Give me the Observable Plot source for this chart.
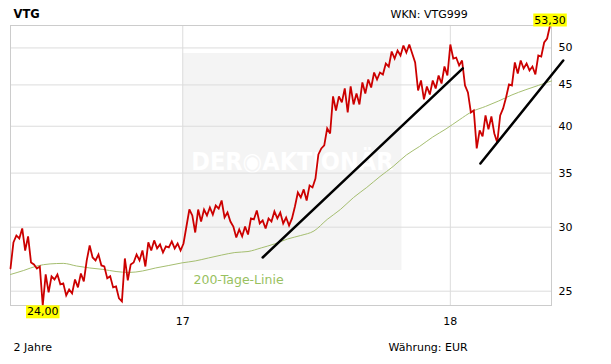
<!DOCTYPE html>
<html><head><meta charset="utf-8">
<script src="https://cdn.jsdelivr.net/npm/d3@7"></script>
<script src="https://cdn.jsdelivr.net/npm/@observablehq/plot@0.6"></script>
<style>body{margin:0;background:#fff}</style>
</head><body><div id="chart"></div>
<script>
// ---- data ----
const title = "VTG";
const wknText = "WKN: VTG999";
const periodText = "2 Jahre";
const currencyText = "Währung: EUR";
const smaLabel = "200-Tage-Linie";
const watermarkText = "DER◉AKTIONÄR";

const startDate = "2016-05-11";
const endDate = "2018-05-19";
const stepDays = 4;            // closing prices sampled every 4 days
const prices = [
26.67, 28.73, 29.30, 29.05, 29.89, 28.07, 29.22, 27.13, 26.98, 26.67,
26.82, 24.00, 26.22, 24.91, 26.08, 25.85, 26.22, 25.49, 25.56, 24.70,
25.12, 24.84, 25.85, 25.27, 26.29, 25.71, 27.29, 28.48, 27.52, 27.29,
27.75, 26.90, 26.82, 25.93, 26.08, 25.27, 25.34, 24.49, 24.28, 27.44,
25.78, 26.98, 27.13, 27.75, 27.29, 28.07, 26.82, 28.73, 28.07, 28.89,
28.24, 28.56, 27.91, 28.40, 28.32, 28.81, 28.24, 28.64, 28.07, 28.64,
30.06, 31.55, 31.02, 29.55, 31.55, 30.49, 31.55, 31.02, 31.73, 31.10,
31.91, 31.64, 32.37, 30.84, 31.28, 30.49, 30.06, 29.13, 29.81, 29.22,
30.06, 29.38, 30.76, 30.67, 31.46, 30.32, 30.58, 29.89, 30.76, 30.49,
31.37, 30.76, 31.28, 30.32, 30.84, 30.15, 30.76, 31.82, 33.12, 32.65,
33.41, 32.37, 33.79, 33.60, 34.46, 36.91, 37.55, 37.87, 39.75, 39.18,
43.55, 41.84, 43.55, 42.81, 44.55, 41.60, 44.80, 42.56, 43.91, 42.56,
45.31, 43.91, 45.70, 44.67, 46.62, 45.70, 46.62, 46.36, 47.83, 47.42,
49.49, 48.51, 49.63, 48.93, 50.35, 49.35, 50.49, 49.21, 47.97, 44.29,
45.57, 43.18, 44.80, 43.79, 45.57, 44.55, 46.22, 45.18, 47.42, 46.22,
50.49, 48.51, 48.65, 47.56, 48.24, 44.93, 44.04, 41.60, 41.84, 37.55,
39.52, 38.85, 41.25, 39.64, 41.13, 39.18, 38.19, 41.25, 42.08, 43.42,
45.05, 44.93, 47.97, 46.49, 48.24, 47.16, 47.83, 46.89, 47.42, 46.36,
48.93, 48.79, 50.78, 51.36, 53.30
];
const smaStepDays = 18;        // 200-day line sampled every 18 days
const sma200 = [
26.22, 26.52, 26.86, 27.02, 27.06, 26.86, 26.71, 26.60, 26.44, 26.37,
26.48, 26.71, 26.90, 27.10, 27.25, 27.48, 27.71, 27.91, 27.99, 28.28,
28.60, 29.01, 29.30, 29.68, 30.67, 31.55, 32.65, 33.60, 34.66, 35.67,
36.85, 37.76, 38.79, 39.69, 40.72, 41.72, 42.32, 42.99, 43.73, 44.36,
44.93, 45.51
];
const trend1 = [["2017-04-20", 27.52], ["2018-01-18", 47.16]];
const trend2 = [["2018-02-11", 35.97], ["2018-06-04", 48.24]];
const yTicks = [25, 30, 35, 40, 45, 50];
const yearTicks = ["2017-01-01", "2018-01-01"];
const yearLabels = ["17", "18"];
const watermarkBox = {from: "2017-01-01", to: "2017-10-27", low: 26.52, high: 49.21};

// ---- build ----
const parse = d3.utcParse("%Y-%m-%d");
const t0 = parse(startDate);
const series = prices.map((p, i) => ({date: d3.utcDay.offset(t0, i * stepDays), price: p}));
const smaSeries = sma200.map((p, i) => ({date: d3.utcDay.offset(t0, i * smaStepDays), price: p}));
const trends = [trend1, trend2].flatMap((t, k) => t.map(([d, p]) => ({k, date: parse(d), price: p})));
const yearDates = yearTicks.map(parse);
const yearLabel = new Map(yearDates.map((d, i) => [+d, yearLabels[i]]));
const last = series[series.length - 1];
const low = d3.least(series, d => d.price);
const fmt = p => p.toFixed(2).replace(".", ",");
const wm = {x1: parse(watermarkBox.from), x2: parse(watermarkBox.to), y1: watermarkBox.low, y2: watermarkBox.high};
const wmCenter = {date: new Date((+wm.x1 + +wm.x2) / 2), price: Math.sqrt(wm.y1 * wm.y2)};
const highlightTexts = new Set([fmt(last.price), fmt(low.price)]);

const font = "'DejaVu Sans', Verdana, sans-serif";
const plot = Plot.plot({
  width: 611, height: 364,
  marginTop: 25, marginRight: 60, marginBottom: 59, marginLeft: 10,
  style: {fontFamily: font, fontSize: "11px", background: "#fff", color: "#000", overflow: "visible"},
  x: {type: "utc", domain: [parse(startDate), parse(endDate)]},
  y: {type: "log", domain: d3.extent(prices)},
  marks: [
    Plot.rect([wm], {x1: "x1", x2: "x2", y1: "y1", y2: "y2", fill: "#f4f4f4"}),
    Plot.text([wmCenter], {x: "date", y: "price", text: () => watermarkText, fill: "#ffffff", fontSize: 25, fontWeight: "bold", fontFamily: "'DejaVu Sans Condensed', 'DejaVu Sans', sans-serif"}),
    Plot.ruleY(yTicks, {stroke: "#dcdcdc"}),
    Plot.ruleX(yearDates, {stroke: "#dcdcdc"}),
    Plot.frame({stroke: "#cccccc"}),
    Plot.line(smaSeries, {x: "date", y: "price", stroke: "#a5be70", strokeWidth: 1, curve: "monotone-x"}),
    Plot.line(series, {x: "date", y: "price", stroke: "#cc0000", strokeWidth: 1.8, strokeLinejoin: "miter", strokeMiterlimit: 3}),
    Plot.line(trends, {x: "date", y: "price", z: "k", stroke: "#000", strokeWidth: 2.5}),
    Plot.axisY(yTicks, {anchor: "right", tickSize: 0, tickPadding: 7, tickFormat: d => String(d), label: null}),
    Plot.axisX(yearDates, {anchor: "bottom", tickSize: 0, tickPadding: 12, tickFormat: d => yearLabel.get(+d), label: null}),
    Plot.text([last], {x: "date", y: "price", text: d => fmt(d.price), lineAnchor: "bottom", dy: -2, fill: "#000"}),
    Plot.text([low], {x: "date", y: "price", text: d => fmt(d.price), lineAnchor: "top", dy: 2, fill: "#000"}),
    Plot.text([smaLabel], {frameAnchor: "bottom-left", text: d => d, dx: 183, dy: -26, textAnchor: "start", lineAnchor: "middle", fill: "#99c15f", fontSize: 12.5}),
    Plot.text([title], {frameAnchor: "top-left", text: d => d, dx: 3, dy: -11.5, textAnchor: "start", lineAnchor: "middle", fontWeight: "bold", fontSize: 11.5}),
    Plot.text([wknText], {frameAnchor: "top-left", text: d => d, dx: 380, dy: -11, textAnchor: "start", lineAnchor: "middle"}),
    Plot.text([periodText], {frameAnchor: "bottom-left", text: d => d, dx: 3, dy: 41.5, textAnchor: "start", lineAnchor: "middle"}),
    Plot.text([currencyText], {frameAnchor: "bottom-left", text: d => d, dx: 378, dy: 41.5, textAnchor: "start", lineAnchor: "middle"})
  ]
});
document.getElementById("chart").append(plot);

// yellow highlight boxes behind the value labels
for (const t of Array.from(plot.querySelectorAll("text"))) {
  if (!highlightTexts.has(t.textContent.trim())) continue;
  const b = t.getBBox();
  const r = document.createElementNS("http://www.w3.org/2000/svg", "rect");
  r.setAttribute("x", b.x - 1);
  r.setAttribute("y", b.y);
  r.setAttribute("width", b.width + 2);
  r.setAttribute("height", b.height);
  r.setAttribute("fill", "#ffff00");
  const tr = t.getAttribute("transform");
  if (tr) r.setAttribute("transform", tr);
  t.parentNode.insertBefore(r, t);
}
</script>
</body></html>
